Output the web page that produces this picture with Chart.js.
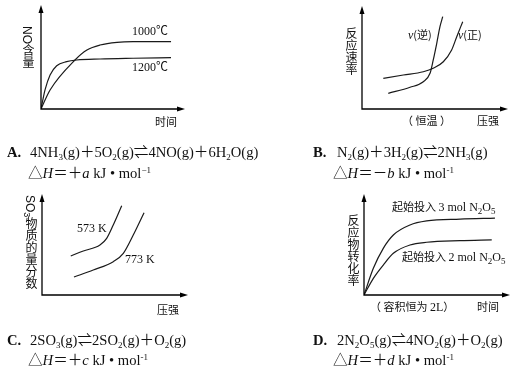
<!DOCTYPE html>
<html>
<head>
<meta charset="utf-8">
<script src="https://cdn.jsdelivr.net/npm/chart.js@4"></script>
<style>
body{margin:0;width:515px;height:369px;position:relative;background:#fff;overflow:hidden;font-family:"Noto Sans CJK SC",sans-serif;color:#111}
canvas{position:absolute}
.t{position:absolute;white-space:nowrap;line-height:1;font-size:11px}
.v{position:absolute;writing-mode:vertical-rl;font-size:12px;line-height:1;font-family:"Liberation Sans","Noto Sans CJK SC",sans-serif;white-space:nowrap}
.s{font-family:"Liberation Serif","Noto Sans CJK SC",serif}
.big{font-size:12px}
.eq{position:absolute;white-space:nowrap;font-family:"Liberation Serif","Noto Sans CJK SC",serif;font-size:14.6px;line-height:16px}
sub{font-size:9px;vertical-align:-3px;line-height:0}
sup{font-size:9px;vertical-align:5px;line-height:0}
</style>
</head>
<body>
<canvas id="cA" width="258" height="130" style="left:0;top:0"></canvas>
<canvas id="cB" width="257" height="130" style="left:258px;top:0"></canvas>
<canvas id="cC" width="258" height="125" style="left:0;top:185px"></canvas>
<canvas id="cD" width="257" height="125" style="left:258px;top:185px"></canvas>

<!-- A -->
<div class="v" style="left:21px;top:26px">NO含量</div>
<div class="t" style="left:155px;top:116px">时间</div>
<div class="t s" style="left:132px;top:25px;font-size:12px">1000℃</div>
<div class="t s" style="left:132px;top:61px;font-size:12px">1200℃</div>
<!-- B -->
<div class="v" style="left:344px;top:27px">反应速率</div>
<div class="t" style="left:402px;top:115px">（ 恒温 ）</div>
<div class="t" style="left:477px;top:115px">压强</div>
<div class="t" style="left:408px;top:29px"><i class="s big">v</i>(逆)</div>
<div class="t" style="left:458px;top:29px"><i class="s big">v</i>(正)</div>
<!-- C -->
<div class="v" style="left:24px;top:195px">SO<sub>3</sub>物质的量分数</div>
<div class="t" style="left:157px;top:304px">压强</div>
<div class="t s" style="left:77px;top:222px;font-size:12px">573 K</div>
<div class="t s" style="left:125px;top:253px;font-size:12px">773 K</div>
<!-- D -->
<div class="v" style="left:346px;top:214px">反应物转化率</div>
<div class="t" style="left:370px;top:301px">（ 容积恒为 <span class="s big">2L</span>）</div>
<div class="t" style="left:477px;top:301px">时间</div>
<div class="t" style="left:392px;top:201px">起始投入 <span class="s big">3 mol N<sub>2</sub>O<sub>5</sub></span></div>
<div class="t" style="left:402px;top:251px">起始投入 <span class="s big">2 mol N<sub>2</sub>O<sub>5</sub></span></div>

<!-- equations -->
<div class="eq" style="left:7px;top:144px"><b>A.</b></div>
<div class="eq" style="left:30px;top:144px">4NH<sub>3</sub>(g)＋5O<sub>2</sub>(g)⇌4NO(g)＋6H<sub>2</sub>O(g)</div>
<div class="eq" style="left:28px;top:165px">△<i>H</i>＝＋<i>a</i> kJ • mol<sup>−1</sup></div>
<div class="eq" style="left:313px;top:144px"><b>B.</b></div>
<div class="eq" style="left:337px;top:144px">N<sub>2</sub>(g)＋3H<sub>2</sub>(g)⇌2NH<sub>3</sub>(g)</div>
<div class="eq" style="left:333px;top:165px">△<i>H</i>＝－<i>b</i> kJ • mol<sup>-1</sup></div>
<div class="eq" style="left:7px;top:332px"><b>C.</b></div>
<div class="eq" style="left:30px;top:332px">2SO<sub>3</sub>(g)⇌2SO<sub>2</sub>(g)＋O<sub>2</sub>(g)</div>
<div class="eq" style="left:28px;top:352px">△<i>H</i>＝＋<i>c</i> kJ • mol<sup>-1</sup></div>
<div class="eq" style="left:313px;top:332px"><b>D.</b></div>
<div class="eq" style="left:337px;top:332px">2N<sub>2</sub>O<sub>5</sub>(g)⇌4NO<sub>2</sub>(g)＋O<sub>2</sub>(g)</div>
<div class="eq" style="left:333px;top:352px">△<i>H</i>＝＋<i>d</i> kJ • mol<sup>-1</sup></div>

<script>
// A: NO content vs time
const a1000X = [0, 6.3, 23.6, 31.9, 41, 52.8, 63.9, 90.3];
const a1000Y = [0, 18.3, 47.1, 56.7, 61.5, 64.1, 64.7, 64.7];
const a1200X = [0, 2.8, 6.3, 10.9, 17.8, 24.8, 41, 63.9, 90.3];
const a1200Y = [0, 18.3, 32.7, 41.6, 45.5, 47.1, 48.1, 48.8, 49.4];
// B: rate vs pressure
const bRevX = [18, 32.9, 42, 46.6, 48.8, 51.2, 53.4, 55.3];
const bRevY = [15.2, 21.1, 26.5, 34.7, 47.6, 63.8, 79.9, 89.6];
const bFwdX = [14.6, 28.3, 42, 48.8, 55.7, 61.4, 64.9, 69];
const bFwdY = [29.8, 33, 36.2, 39.5, 45.9, 57.3, 70.2, 84.8];
// C: SO3 fraction vs pressure
const c573X = [19.7, 28.3, 39.7, 44.3, 48.8, 54.6];
const c573Y = [38.6, 43.6, 49.5, 56.1, 69.3, 88.4];
const c773X = [21.9, 35.1, 48.8, 55.7, 62.5, 69.9];
const c773Y = [17.8, 24.8, 33, 41.3, 59.4, 81.5];
// D: conversion vs time
const d3X = [0, 6.4, 13.2, 20.1, 31.5, 42.9, 65.8, 89.7];
const d3Y = [0, 26.4, 46.2, 59.4, 69.3, 73.3, 75.2, 76.2];
const d2X = [0, 6.4, 13.2, 20.1, 31.5, 42.9, 65.8, 87.5];
const d2Y = [0, 16.5, 29.7, 41.3, 49.5, 52.2, 53.8, 54.5];

const pts = (xs, ys) => xs.map((x, i) => ({ x, y: ys[i] }));

const axesArrows = {
    id: 'axesArrows',
    afterDatasetsDraw(chart) {
        const { ctx, scales: { x, y } } = chart;
        const x0 = x.getPixelForValue(0), y0 = y.getPixelForValue(0);
        const x1 = x.getPixelForValue(100), y1 = y.getPixelForValue(100);
        ctx.save();
        ctx.strokeStyle = '#000'; ctx.fillStyle = '#000'; ctx.lineWidth = 1.3;
        ctx.beginPath(); ctx.moveTo(x0, y1 + 4); ctx.lineTo(x0, y0); ctx.lineTo(x1 - 4, y0); ctx.stroke();
        ctx.beginPath(); ctx.moveTo(x0, y1); ctx.lineTo(x0 - 2.5, y1 + 8); ctx.lineTo(x0 + 2.5, y1 + 8); ctx.closePath(); ctx.fill();
        ctx.beginPath(); ctx.moveTo(x1, y0); ctx.lineTo(x1 - 8, y0 - 2.5); ctx.lineTo(x1 - 8, y0 + 2.5); ctx.closePath(); ctx.fill();
        ctx.restore();
    }
};

function makeChart(id, series, pad) {
    return new Chart(document.getElementById(id), {
        type: 'line',
        data: { datasets: series.map(s => ({ data: s, borderColor: '#1a1a1a', borderWidth: 1.2, pointRadius: 0, cubicInterpolationMode: 'monotone', fill: false })) },
        options: {
            responsive: false, animation: false, devicePixelRatio: 1,
            layout: { padding: pad },
            plugins: { legend: { display: false }, tooltip: { enabled: false } },
            scales: { x: { type: 'linear', min: 0, max: 100, display: false }, y: { min: 0, max: 100, display: false } }
        },
        plugins: [axesArrows]
    });
}

makeChart('cA', [pts(a1000X, a1000Y), pts(a1200X, a1200Y)], { left: 41, top: 5, right: 73, bottom: 21 });
makeChart('cB', [pts(bRevX, bRevY), pts(bFwdX, bFwdY)], { left: 104, top: 6, right: 7, bottom: 21 });
makeChart('cC', [pts(c573X, c573Y), pts(c773X, c773Y)], { left: 42, top: 9, right: 70, bottom: 15 });
makeChart('cD', [pts(d3X, d3Y), pts(d2X, d2Y)], { left: 106, top: 9, right: 5, bottom: 15 });
</script>
</body>
</html>
